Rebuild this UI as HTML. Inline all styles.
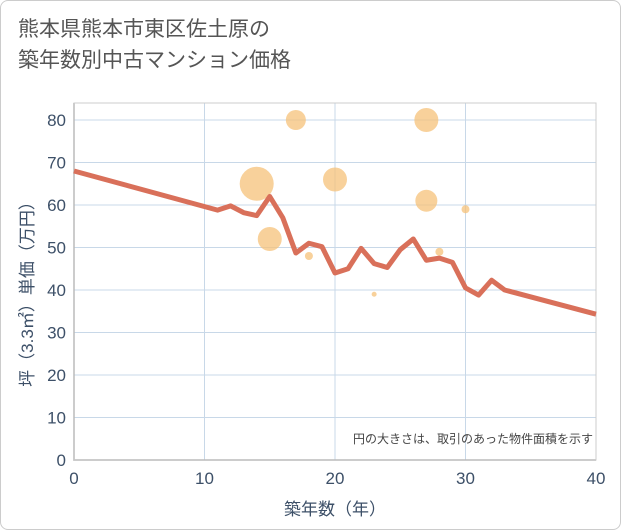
<!DOCTYPE html>
<html><head><meta charset="utf-8"><style>
body{margin:0;background:#fff;font-family:"Liberation Sans","Noto Sans CJK JP",sans-serif;}
#frame{position:absolute;left:0;top:0;width:619px;height:528px;border:1px solid #ccc;border-radius:8px;}
#title{position:absolute;left:18px;top:14px;font-size:21px;line-height:31px;color:#555;}
</style></head><body>
<div id="frame"></div>
<div id="title">熊本県熊本市東区佐土原の<br>築年数別中古マンション価格</div>
<svg id="c" width="621" height="530" style="position:absolute;left:0;top:0"></svg>
<script>
const lineYears=[0,11,12,13,14,15,16,17,18,19,20,21,22,23,24,25,26,27,28,29,30,31,32,33,40];
const lineVals=[68,58.8,59.8,58.2,57.5,62,57,48.7,51,50.2,44,45,49.8,46.2,45.3,49.5,52,47,47.5,46.5,40.5,38.8,42.3,40,34.3];
const bubX=[14,15,17,18,20,23,27,27,28,30];
const bubY=[65,52,80,48,66,39,80,61,49,59];
const bubR=[17,12,10,4,12,2.5,12,11,4,4];
const xTicks=[0,10,20,30,40];
const yTicks=[0,10,20,30,40,50,60,70,80];
const L=74,R=596,T=103,B=460;
const xs=v=>L+(R-L)*v/40, ys=v=>B-(B-120)*v/80;
const svg=document.getElementById('c');const NS='http://www.w3.org/2000/svg';
function mk(t,a,p){const e=document.createElementNS(NS,t);for(const k in a)e.setAttribute(k,a[k]);(p||svg).appendChild(e);return e;}
let r=mk('rect',{x:L,y:T,width:R-L,height:B-T,fill:'#fff',stroke:'none'});


yTicks.forEach(v=>{let g=mk('line',{x1:L,x2:R,y1:ys(v),y2:ys(v),stroke:'#c8d8e8','stroke-width':1});


let t=mk('text',{x:L-8,y:ys(v)+6,'text-anchor':'end','font-size':17,fill:'#3d5068'});t.textContent=v;

});
xTicks.forEach(v=>{let g=mk('line',{x1:xs(v),x2:xs(v),y1:T,y2:B,stroke:'#c8d8e8','stroke-width':1});


let t=mk('text',{x:xs(v),y:B+24,'text-anchor':'middle','font-size':17,fill:'#3d5068'});t.textContent=v;

});
let ax=mk('path',{d:`M${L},${T}V${B}H${R}`,fill:'none',stroke:'#999','stroke-width':1.5});


let bx=mk('rect',{x:L,y:T,width:R-L,height:B-T,fill:'none',stroke:'#ccc','stroke-width':1});


bubX.forEach((x,i)=>{let c=mk('circle',{cx:xs(x),cy:ys(bubY[i]),r:bubR[i],fill:'#f5c27a','fill-opacity':0.75});

});
let pl=mk('polyline',{points:lineYears.map((x,i)=>xs(x)+','+ys(lineVals[i])).join(' '),fill:'none',stroke:'#d9705a','stroke-width':5,'stroke-linejoin':'round'});


let n=mk('text',{x:593,y:443,'text-anchor':'end','font-size':12,fill:'#444'});n.textContent='円の大きさは、取引のあった物件面積を示す';


let xt=mk('text',{x:335,y:515,'text-anchor':'middle','font-size':17,fill:'#3d5068'});xt.textContent='築年数（年）';


let yt=mk('text',{x:0,y:0,'text-anchor':'middle','font-size':17,fill:'#3d5068',transform:'translate(33,290) rotate(-90)'});yt.textContent='坪（3.3㎡）単価（万円）';


</script></body></html>
